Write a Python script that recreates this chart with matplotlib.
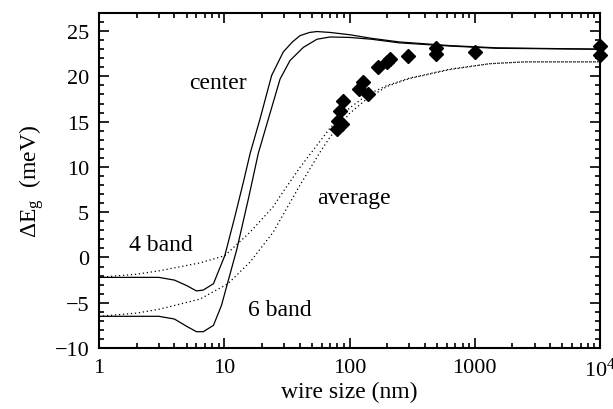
import matplotlib
matplotlib.use("Agg")
import matplotlib.pyplot as plt
from matplotlib.ticker import MultipleLocator, FixedLocator, LogLocator, NullFormatter

plt.rcParams['font.family'] = ['Liberation Serif', 'DejaVu Serif']
plt.rcParams['mathtext.fontset'] = 'custom'
plt.rcParams['mathtext.rm'] = 'Liberation Serif'
plt.rcParams['mathtext.it'] = 'Liberation Serif:italic'

# 4 band, wire center
c4_x = [1, 3, 4, 5, 6, 6.8, 8.2, 10.1, 12.2, 14.2, 16.1, 19.3, 23.9, 29.6, 35, 40.3,
        48, 55, 70, 100, 150, 250, 630, 1500, 10000]
c4_y = [-2.2, -2.2, -2.5, -3.1, -3.7, -3.6, -2.9, 0.2, 4.6, 8.3, 11.5, 15.3, 20.1, 22.7,
        23.8, 24.5, 24.85, 24.95, 24.85, 24.6, 24.2, 23.8, 23.4, 23.15, 23.0]

# 6 band, wire center
c6_x = [1, 3, 4, 5, 6, 6.8, 8.2, 9.5, 10.5, 12.6, 15.6, 18.7, 22.5, 27.9, 33.5, 42.8,
        55, 70, 100, 150, 250, 630, 1500, 10000]
c6_y = [-6.5, -6.5, -6.8, -7.6, -8.2, -8.2, -7.5, -5.3, -3.1, 0.9, 6.5, 11.5, 15.3, 19.7,
        21.75, 23.2, 24.1, 24.35, 24.3, 24.1, 23.7, 23.35, 23.1, 23.0]

# 4 band, averaged
a4_x = [1, 2, 3.07, 6.4, 10.1, 16.1, 24.6, 28, 40, 51, 70, 100, 140, 200, 300, 635,
        1320, 2500, 10000]
a4_y = [-2.2, -1.85, -1.46, -0.6, 0.2, 2.8, 5.6, 6.8, 9.9, 11.8, 14.3, 16.5, 18.0, 19.0,
        19.8, 20.8, 21.4, 21.6, 21.6]

# 6 band, averaged
a6_x = [1, 2, 3.07, 6.4, 10.7, 16.1, 24.6, 40.3, 58, 70, 100, 140, 200, 300, 635,
        1320, 2500, 10000]
a6_y = [-6.5, -6.15, -5.7, -4.6, -2.9, -0.5, 2.8, 8.0, 11.6, 13.3, 15.9, 17.6, 18.9,
        19.75, 20.75, 21.4, 21.6, 21.6]

# measured points
m_x = [79, 81, 84, 87, 89, 118, 129, 141, 170, 200, 211, 295, 490, 490, 1000, 10000, 10000]
m_y = [14.2, 15.1, 16.2, 14.75, 17.3, 18.6, 19.4, 18.1, 21.0, 21.6, 21.9, 22.3, 23.1,
       22.5, 22.7, 23.3, 22.4]

xticks = [1, 10, 100, 1000, 10000]
xticklabels = ['1', '10', '100', '1000', '10$^4$']

fig = plt.figure(figsize=(6.13, 4.10), dpi=100)
ax = fig.add_axes([0.1615, 0.1488, 0.8173, 0.8171])

ax.plot(c4_x, c4_y, color='black', lw=0.9)
ax.plot(c6_x, c6_y, color='black', lw=0.9)
ax.plot(a4_x, a4_y, color='black', lw=0.9, ls=(0, (1, 2.2)))
ax.plot(a6_x, a6_y, color='black', lw=0.9, ls=(0, (1, 2.2)))
ax.plot(m_x, m_y, 'D', color='black', ms=7.2, clip_on=False, zorder=5)

ax.set_xscale('log')
ax.set_xlim(1, 10000)
ax.set_ylim(-10, 27)

ax.xaxis.set_major_locator(FixedLocator(xticks))
ax.set_xticklabels(xticklabels)
ax.xaxis.set_minor_locator(LogLocator(base=10, subs=range(2, 10)))
ax.xaxis.set_minor_formatter(NullFormatter())
ax.yaxis.set_major_locator(MultipleLocator(5))
ax.yaxis.set_minor_locator(MultipleLocator(1))

ax.tick_params(which='both', direction='in', top=True, right=True, labelsize=16, width=1.2)
ax.tick_params(which='major', length=7, pad=7)
ax.tick_params(which='minor', length=3.5)
for s in ax.spines.values():
    s.set_linewidth(1.5)

ax.set_xlabel('wire size (nm)', fontsize=17, labelpad=0)
ax.set_ylabel(r'$\Delta$E$_\mathrm{g}$  (meV)', fontsize=17, labelpad=6)

ax.text(8.9, 19.3, 'center', fontsize=17, ha='center', va='center')
ax.text(108, 6.6, 'average', fontsize=17, ha='center', va='center')
ax.text(3.13, 1.4, '4 band', fontsize=17, ha='center', va='center')
ax.text(27.9, -5.7, '6 band', fontsize=17, ha='center', va='center')

fig.savefig('out.png', dpi=100)
